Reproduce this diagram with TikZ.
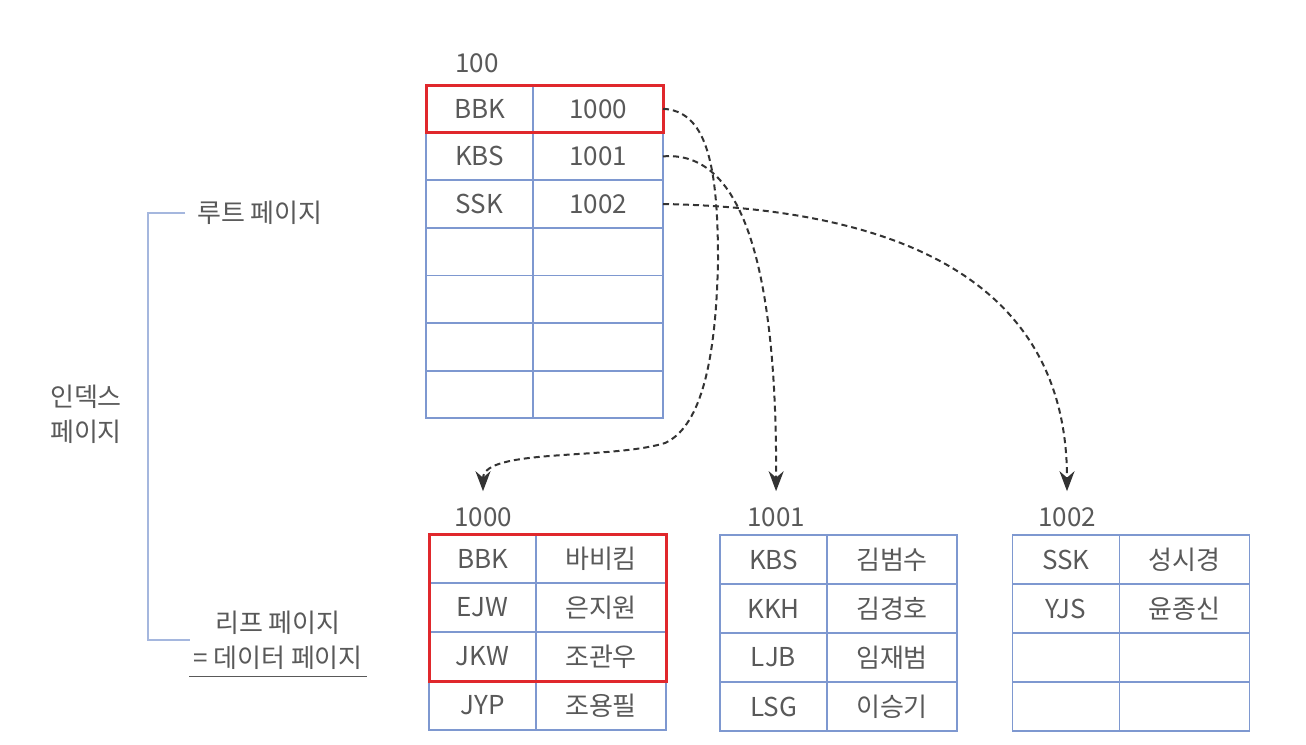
\documentclass[tikz,border=0pt]{standalone}
\usepackage{fontspec}
\setmainfont{Noto Sans CJK KR}
\usetikzlibrary{arrows.meta,positioning,fit}
\definecolor{pgblue}{HTML}{7E98D0}
\definecolor{pgred}{HTML}{E0282C}
\definecolor{pgtext}{HTML}{595959}
\definecolor{pgdark}{HTML}{333333}
\tikzset{
  keycell/.style={draw=pgblue,line width=1.8pt,minimum width=107pt,minimum height=47.6pt,inner sep=0pt,outer sep=0pt,text=pgtext},
  valcell/.style={keycell,minimum width=130pt},
  leafkey/.style={keycell,minimum height=49pt},
  leafval/.style={valcell,minimum height=49pt},
  pagelbl/.style={text=pgtext,inner sep=0pt},
  hilite/.style={draw=pgred,line width=3pt,inner sep=0pt},
  ptr/.style={-{Stealth[length=20pt,width=15pt]},draw=pgdark,line width=2pt,dash pattern=on 6pt off 4pt,shorten >=16pt},
  brace/.style={draw=pgblue!70,line width=1.6pt},
}

\begin{document}
\begin{tikzpicture}[x=1pt,y=-1pt,every node/.style={font=\fontsize{26}{35}\selectfont}]
  \fill[white] (0,0) rectangle (1306,744);
  \useasboundingbox (0,0) rectangle (1306,744);
  % root page
  \node[pagelbl] (lbl100) at (477,63) {100};
  \foreach \k/\v [count=\i] in {BBK/1000,KBS/1001,SSK/1002,{}/{},{}/{},{}/{},{}/{}} {
    \node[keycell] (rk\i) at (479.5,{85+47.6*(\i-0.5)}) {\k};
    \node[valcell,right=0pt of rk\i] (rv\i) {\v};
  }
  % leaf pages
  \node[pagelbl] (lbl1000) at (483,517) {1000};
  \foreach \k/\v [count=\i] in {BBK/바비킴,EJW/은지원,JKW/조관우,JYP/조용필} {
    \node[leafkey] (ak\i) at (482.5,{534+49*(\i-0.5)}) {\k};
    \node[leafval,right=0pt of ak\i] (av\i) {\v};
  }
  \node[pagelbl] (lbl1001) at (776,517) {1001};
  \foreach \k/\v [count=\i] in {KBS/김범수,KKH/김경호,LJB/임재범,LSG/이승기} {
    \node[leafkey] (bk\i) at (773.5,{535+49*(\i-0.5)}) {\k};
    \node[leafval,right=0pt of bk\i] (bv\i) {\v};
  }
  \node[pagelbl] (lbl1002) at (1067,517) {1002};
  \foreach \k/\v [count=\i] in {SSK/성시경,YJS/윤종신,{}/{},{}/{}} {
    \node[leafkey] (ck\i) at (1066,{535+49*(\i-0.5)}) {\k};
    \node[leafval,right=0pt of ck\i] (cv\i) {\v};
  }
  % search path
  \node[hilite,fit=(rk1)(rv1)] (hlroot) {};
  \node[hilite,fit=(ak1)(av3)] (hlleaf) {};
  % pointers
  \draw[ptr] (rv1.east) .. controls (705,111) and (718,160) .. (718,260)
    .. controls (716,370) and (698,428) .. (665,443)
    .. controls (610,460) and (483,448) .. (lbl1000.north);
  \draw[ptr] (rv2.east) .. controls (740,150) and (777,260) .. (lbl1001.north);
  \draw[ptr] (rv3.east) .. controls (880,208) and (1067,270) .. (lbl1002.north);
  % page kinds
  \node[pagelbl,anchor=west] (rootpg) at (197,213) {루트 페이지};
  \node[pagelbl,align=center] (idxpg) at (86,414) {인덱스\\페이지};
  \node[pagelbl,align=center] (leafpg) at (278,640) {리프 페이지\\= 데이터 페이지};
  \draw[brace] ([xshift=-12pt]rootpg.west) -- ++(-37,0) |- ([xshift=-3pt]leafpg.west);
  \draw[pgtext,line width=1.6pt] ([xshift=-4pt,yshift=-7pt]leafpg.south west) -- ([xshift=4pt,yshift=-7pt]leafpg.south east);
\end{tikzpicture}
\end{document}
